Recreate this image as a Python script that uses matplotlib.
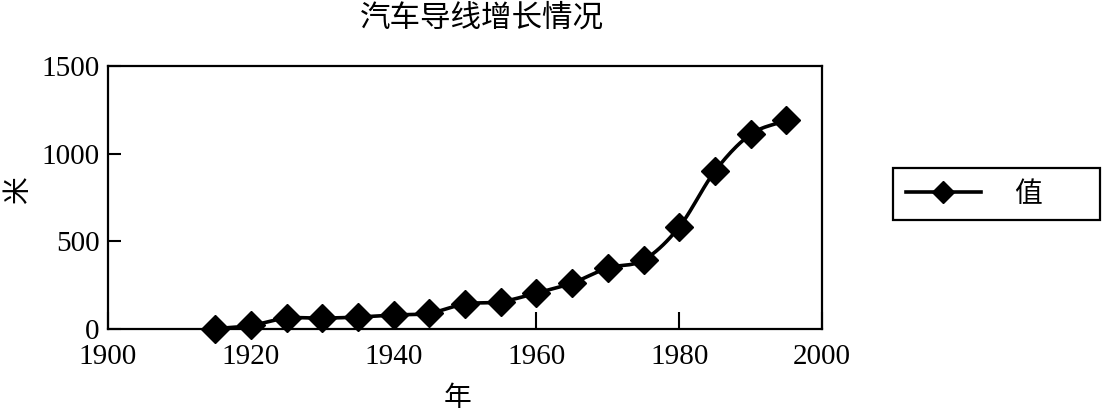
import numpy as np
import matplotlib
matplotlib.use("Agg")
import matplotlib.pyplot as plt
from matplotlib.lines import Line2D
from matplotlib.patches import Rectangle

plt.rcParams['font.family'] = ['Liberation Serif', 'Noto Sans CJK SC', 'DejaVu Sans']

years = [1915, 1920, 1925, 1930, 1935, 1940, 1945, 1950, 1955, 1960,
         1965, 1970, 1975, 1980, 1985, 1990, 1995]
values = [2, 20, 62, 62, 68, 80, 90, 143, 155, 205,
          262, 348, 393, 582, 900, 1110, 1190]
title = "汽车导线增长情况"
xlabel = "年"
ylabel = "米"
series_name = "值"
xticks = [1900, 1920, 1940, 1960, 1980, 2000]
yticks = [0, 500, 1000, 1500]


def catmull_rom(x, y, n=20):
    x = np.asarray(x, float)
    y = np.asarray(y, float)
    px = np.concatenate([[2 * x[0] - x[1]], x, [2 * x[-1] - x[-2]]])
    py = np.concatenate([[2 * y[0] - y[1]], y, [2 * y[-1] - y[-2]]])
    outx, outy = [], []
    t = np.linspace(0, 1, n, endpoint=False)
    for i in range(1, len(px) - 2):
        for P, out in ((px, outx), (py, outy)):
            p0, p1, p2, p3 = P[i - 1], P[i], P[i + 1], P[i + 2]
            out.extend(0.5 * ((2 * p1) + (-p0 + p2) * t
                              + (2 * p0 - 5 * p1 + 4 * p2 - p3) * t ** 2
                              + (-p0 + 3 * p1 - 3 * p2 + p3) * t ** 3))
    outx.append(x[-1])
    outy.append(y[-1])
    return np.array(outx), np.array(outy)


W, H = 1103, 415
fig = plt.figure(figsize=(W / 100, H / 100), dpi=100)
ax = fig.add_axes([108 / W, 1 - 329 / H, (822 - 108) / W, (329 - 66) / H])

sx, sy = catmull_rom(years, values)
ax.plot(sx, sy, color='black', lw=2.6, solid_capstyle='round', clip_on=False)
ax.plot(years, values, linestyle='none', marker='D', markersize=14,
        color='black', clip_on=False, zorder=3)

ax.set_xlim(1900, 2000)
ax.set_ylim(0, 1500)
ax.set_xticks(xticks)
ax.set_yticks(yticks)
ax.tick_params(direction='in', length=9, width=1.5, labelsize=21)
ax.tick_params(axis='y', pad=6)
ax.tick_params(axis='x', length=12, pad=11)
for s in ax.spines.values():
    s.set_linewidth(1.6)

fig.text(482 / W, 1 - 18 / H, title, ha='center', va='center', fontsize=22,
         family=['Noto Sans CJK SC'])
fig.text(458 / W, 1 - 398 / H, xlabel, ha='center', va='center', fontsize=20,
         family=['Noto Sans CJK SC'])
fig.text(18 / W, 1 - 190 / H, ylabel, ha='center', va='center', fontsize=20,
         rotation=90, family=['Noto Sans CJK SC'])

handle = Line2D([], [], color='black', lw=2.6, marker='D', markersize=11)
leg = fig.legend([handle], [series_name], loc='center left',
                 bbox_to_anchor=(893 / W, 1 - 194 / H),
                 frameon=False,
                 prop={'family': ['Noto Sans CJK SC'], 'size': 20},
                 handlelength=2.7, handletextpad=1.2, borderpad=0.45,
                 borderaxespad=0)
fig.patches.append(Rectangle((893 / W, 1 - 220 / H), (1100 - 893) / W, 52 / H,
                             transform=fig.transFigure, fill=False,
                             edgecolor='black', linewidth=1.6))

fig.savefig("out.png", dpi=100)
